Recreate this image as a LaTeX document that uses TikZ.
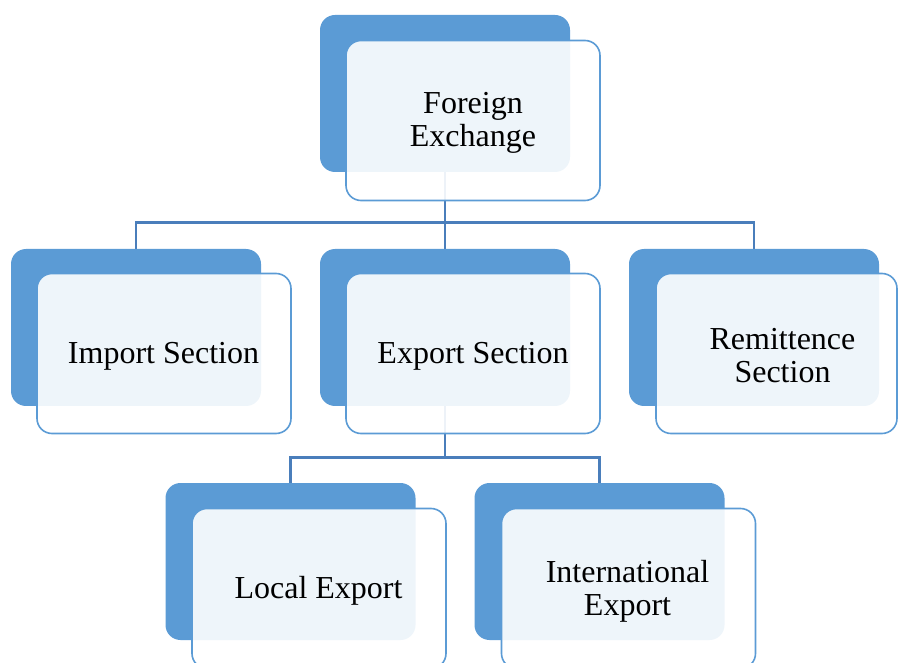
\documentclass[tikz,border=0pt]{standalone}
\usepackage{fontspec}
\setmainfont{Liberation Serif}
\usetikzlibrary{backgrounds}
\definecolor{boxblue}{HTML}{5B9BD5}
\definecolor{connblue}{HTML}{4A7EBB}
\tikzset{
  backbox/.style={draw=none, fill=boxblue, rounded corners=15pt, minimum width=250pt, minimum height=157pt, inner sep=0pt},
  frontbox/.style={draw=boxblue, line width=1.6pt, fill=white, fill opacity=0.9, rounded corners=15pt, minimum width=254pt, minimum height=160pt, inner sep=0pt},
  lbl/.style={align=center, inner sep=0pt, font=\fontsize{32}{33}\selectfont},
  conn/.style={draw=connblue, line width=2.2pt}
}
\begin{document}
\begin{tikzpicture}[x=1pt, y=-1pt]
\useasboundingbox (0,0) rectangle (898,663);
\clip (0,0) rectangle (898,663);
% back boxes
\node[backbox] (fe) at (445,93.5) {};
\node[backbox] (imp) at (136,327.5) {};
\node[backbox] (exp) at (445,327.5) {};
\node[backbox] (rem) at (754,327.5) {};
\node[backbox] (loc) at (290.5,561.5) {};
\node[backbox] (int) at (599.5,561.5) {};
% connectors
\begin{pgfonlayer}{background}
\coordinate (j1) at (445,222.5);
\coordinate (j2) at (445,457.5);
\draw[conn] (fe.south) -- (j1);
\draw[conn] (imp.north) |- (j1) -| (rem.north);
\draw[conn] (j1) -- (exp.north);
\draw[conn] (exp.south) -- (j2);
\draw[conn] (loc.north) |- (j2) -| (int.north);
\end{pgfonlayer}
% front boxes
\node[frontbox] (feF) at (473,120.5) {};
\node[frontbox] (impF) at (164,353.5) {};
\node[frontbox] (expF) at (473,353.5) {};
\node[frontbox, minimum width=241pt] (remF) at (776.5,353.5) {};
\node[frontbox] (locF) at (319,588.5) {};
\node[frontbox] (intF) at (628.5,588.5) {};
% labels
\node[lbl] (feT) at (473,123) {Foreign\\Exchange};
\node[lbl] (impT) at (163.5,356) {Import Section};
\node[lbl] (expT) at (473,356) {Export Section};
\node[lbl] (remT) at (782.5,356) {Remittence\\Section};
\node[lbl] (locT) at (318.5,591) {Local Export};
\node[lbl] (intT) at (627.5,591) {International\\Export};
\end{tikzpicture}
\end{document}
